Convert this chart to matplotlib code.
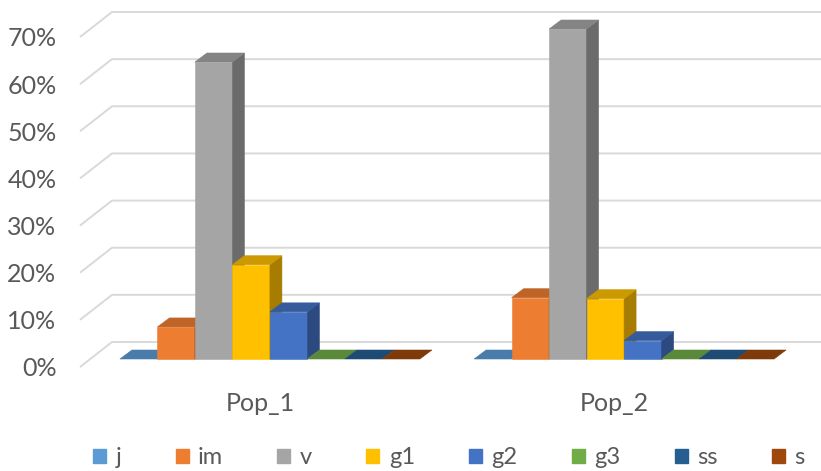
import matplotlib.pyplot as plt
from matplotlib.patches import Polygon, Patch
from matplotlib.ticker import PercentFormatter
import matplotlib.colors as mcolors

# 3D 느낌의 묶음 막대 그래프 (Pop_1, Pop_2)
categories = ["Pop_1", "Pop_2"]
series = ["j", "im", "v", "g1", "g2", "g3", "ss", "s"]
j = [0.0, 0.0]
im = [0.068, 0.13]
v = [0.63, 0.70]
g1 = [0.20, 0.128]
g2 = [0.10, 0.039]
g3 = [0.0, 0.0]
ss = [0.0, 0.0]
s = [0.0, 0.0]
values = [j, im, v, g1, g2, g3, ss, s]
colors = ["#5B9BD5", "#ED7D31", "#A5A5A5", "#FFC000",
          "#4472C4", "#70AD47", "#255E91", "#9E480E"]
yticks = [0, 0.1, 0.2, 0.3, 0.4, 0.5, 0.6, 0.7]

plt.rcParams['font.family'] = ['Lato', 'DejaVu Sans']
text_color = "#595959"
fsize = 18

W, H = 821, 471
fig = plt.figure(figsize=(W / 100, H / 100), dpi=100)
ax = fig.add_axes([80 / W, (H - 367) / H, 714 / W, 330 / H])
ax.set_xlim(-0.508, 1.508)
ax.set_ylim(0, 0.7)
px = 2.016 / 714   # 1픽셀당 x 단위
py = 0.7 / 330     # 1픽셀당 y 단위

# 뒷벽 눈금선 (왼쪽 사선 + 가로선)
xl = -0.508
for t in yticks:
    tb = t + 25 * py
    ax.plot([xl, xl + 32 * px, 2.0], [t, tb, tb], color="#D9D9D9", lw=1.4,
            clip_on=False, zorder=1, solid_capstyle='butt')

def shade(c, f):
    r, g, b = mcolors.to_rgb(c)
    return (r * f, g * f, b * f)

w = 37.5 * px
bx, by = 10 * px, 8 * py       # 막대 앞면 위치
dx, dy = 12 * px, 9 * py       # 막대 깊이

z = 3
for i in range(len(categories)):
    for k in range(len(series)):
        h = values[k][i]
        x = i - 4 * w + k * w + bx
        c = colors[k]
        top = h + by
        if h > 0:
            ax.bar(x, h, width=w, bottom=by, align='edge', color=c,
                   edgecolor=c, lw=0.4, clip_on=False, zorder=z)
            side = Polygon([(x + w, by), (x + w + dx, by + dy),
                            (x + w + dx, top + dy), (x + w, top)],
                           closed=True, fc=shade(c, 0.65), ec=shade(c, 0.65),
                           lw=0.4, clip_on=False, zorder=z)
            ax.add_patch(side)
        lid = Polygon([(x, top), (x + w, top), (x + w + dx, top + dy),
                       (x + dx, top + dy)], closed=True,
                      fc=shade(c, 0.8), ec=shade(c, 0.8), lw=0.4,
                      clip_on=False, zorder=z + 1)
        ax.add_patch(lid)
        z += 2

for sp in ax.spines.values():
    sp.set_visible(False)
ax.patch.set_visible(False)
ax.set_yticks(yticks)
ax.yaxis.set_major_formatter(PercentFormatter(1.0, decimals=0))
ax.set_xticks(range(len(categories)))
ax.set_xticklabels(categories)
ax.tick_params(axis='y', length=0, pad=17, labelsize=fsize, labelcolor=text_color)
ax.tick_params(axis='x', length=0, pad=18, labelsize=fsize, labelcolor=text_color)

handles = [Patch(color=c, label=n) for c, n in zip(colors, series)]
fig.legend(handles=handles, loc='center', bbox_to_anchor=(449 / W, 13 / H),
           ncol=8, frameon=False, fontsize=17, labelcolor=text_color,
           handlelength=0.55, handleheight=0.55, handletextpad=0.4,
           columnspacing=2.3, borderaxespad=0, borderpad=0)

fig.savefig("out.png", dpi=100)
